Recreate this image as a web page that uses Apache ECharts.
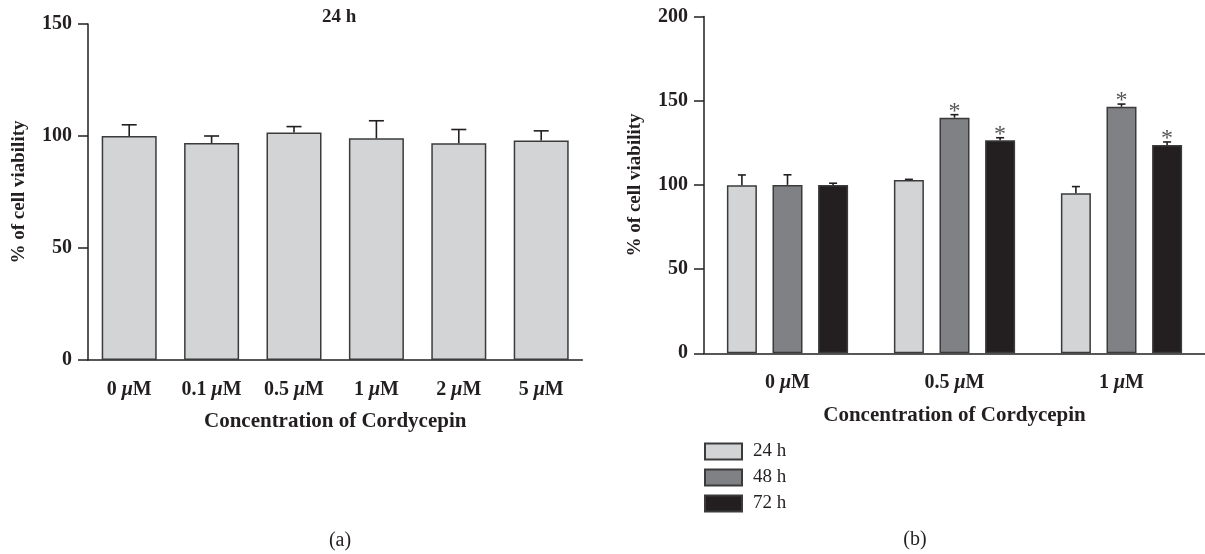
<!DOCTYPE html>
<html>
<head>
<meta charset="utf-8">
<script src="https://cdn.jsdelivr.net/npm/echarts@6/dist/echarts.min.js"></script>
<style>
html,body{margin:0;padding:0;background:#fff;}
#c{width:1205px;height:554px;}
</style>
</head>
<body>
<div id="c"></div>
<script>
// ---- data ----
const leftCategories = ['0 μM', '0.1 μM', '0.5 μM', '1 μM', '2 μM', '5 μM'];
const leftMeans = [100, 96.9, 101.6, 99.0, 96.8, 98.0];
const leftErr = [5.0, 3.1, 2.6, 7.8, 6.1, 4.3];

const rightCategories = ['0 μM', '0.5 μM', '1 μM'];
const seriesNames = ['24 h', '48 h', '72 h'];
const mean24 = [99.8, 102.9, 95.0];
const err24 = [6.1, 0.4, 4.0];
const mean48 = [100.0, 139.9, 146.4];
const err48 = [6.0, 1.8, 1.6];
const mean72 = [100.0, 126.5, 123.7];
const err72 = [1.0, 1.5, 1.8];
const sig48 = [false, true, true];
const sig72 = [false, true, true];

const leftTicks = {min: 0, max: 150, interval: 50};
const rightTicks = {min: 0, max: 200, interval: 50};

// ---- style ----
const FONT = "'Liberation Serif', 'DejaVu Serif', serif";
const INK = '#231f20';
const fills = ['#d3d4d6', '#808185', '#231f20'];
const BORDER = '#3b3b3b';
const RBAR = 30, RGAP = 0.52;

const chart = echarts.init(document.getElementById('c'), null, {renderer: 'canvas'});

function labelFmt(v) { return v.replace('μ', '{i|μ}'); }

function errRenderer(offsetPx, cap, sig) {
  return function (params, api) {
    const idx = api.value(0);
    const lo = api.value(1), hi = api.value(2);
    const p0 = api.coord([idx, lo]);
    const p1 = api.coord([idx, hi]);
    const cx = p0[0] + offsetPx;
    const style = {stroke: INK, lineWidth: 1.6};
    const children = [
      {type: 'line', shape: {x1: cx, y1: p0[1], x2: cx, y2: p1[1]}, style: style},
      {type: 'line', shape: {x1: cx - cap / 2, y1: p1[1], x2: cx + cap / 2, y2: p1[1]}, style: style}
    ];
    if (sig && sig[params.dataIndex]) {
      children.push({type: 'text', style: {text: '*', x: cx, y: p1[1] + 9, align: 'center', verticalAlign: 'bottom',
        font: "normal 24px " + FONT, fill: '#555'}});
    }
    return {type: 'group', children: children};
  };
}

function errData(means, errs) { return means.map((m, i) => [i, m, m + errs[i]]); }

const axisLine = {lineStyle: {color: INK, width: 1.5}};
const axisTick = {lineStyle: {color: INK, width: 1.5}, length: 10};

const rightMeans = [mean24, mean48, mean72];
const rightErrs = [err24, err48, err72];
const rightSig = [null, sig48, sig72];

const series = [
  {
    type: 'bar', name: 'a', xAxisIndex: 0, yAxisIndex: 0, data: leftMeans, barWidth: 55,
    itemStyle: {color: fills[0], borderColor: BORDER, borderWidth: 1.5}, silent: true
  },
  {
    type: 'custom', name: 'aerr', xAxisIndex: 0, yAxisIndex: 0, z: 5, silent: true,
    renderItem: errRenderer(0, 15, null), data: errData(leftMeans, leftErr)
  }
];
seriesNames.forEach((n, i) => {
  series.push({
    type: 'bar', name: n, xAxisIndex: 1, yAxisIndex: 1, data: rightMeans[i], barWidth: RBAR, barGap: (RGAP * 100) + '%',
    itemStyle: {color: fills[i], borderColor: BORDER, borderWidth: 1.5}, silent: true
  });
});
seriesNames.forEach((n, i) => {
  series.push({
    type: 'custom', name: n + ' err', xAxisIndex: 1, yAxisIndex: 1, z: 5, silent: true,
    renderItem: errRenderer((i - 1) * RBAR * (1 + RGAP), 8, rightSig[i]),
    data: errData(rightMeans[i], rightErrs[i])
  });
});

const yAxisCommon = {
  type: 'value', nameLocation: 'middle', nameGap: 59, name: '% of cell viability',
  nameTextStyle: {fontFamily: FONT, fontWeight: 'bold', fontSize: 19, color: INK},
  axisLine: Object.assign({show: true}, axisLine),
  axisTick: Object.assign({show: true}, axisTick),
  splitLine: {show: false},
  axisLabel: {fontFamily: FONT, fontWeight: 'bold', fontSize: 20, color: INK, margin: 16}
};
const xAxisCommon = {
  type: 'category', nameLocation: 'middle', name: 'Concentration of Cordycepin',
  nameTextStyle: {fontFamily: FONT, fontWeight: 'bold', fontSize: 21, color: INK},
  axisLine: axisLine,
  axisTick: Object.assign({alignWithLabel: true}, axisTick),
  axisLabel: {
    fontFamily: FONT, fontWeight: 'bold', fontSize: 20, color: INK, margin: 20, interval: 0,
    formatter: labelFmt,
    rich: {i: {fontFamily: FONT, fontWeight: 'bold', fontStyle: 'italic', fontSize: 20, color: INK}}
  }
};

chart.setOption({
  animation: false,
  backgroundColor: '#ffffff',
  grid: [
    {left: 88, top: 24, width: 494.4, height: 336},
    {left: 704, top: 16.5, width: 505, height: 336.8}
  ],
  xAxis: [
    Object.assign({}, xAxisCommon, {gridIndex: 0, data: leftCategories, nameGap: 51}),
    Object.assign({}, xAxisCommon, {gridIndex: 1, data: rightCategories, nameGap: 52})
  ],
  yAxis: [
    Object.assign({}, yAxisCommon, {gridIndex: 0}, leftTicks),
    Object.assign({}, yAxisCommon, {gridIndex: 1}, rightTicks)
  ],
  legend: {
    data: seriesNames, orient: 'vertical', left: 704, top: 442, padding: 0, itemWidth: 37, itemHeight: 16, itemGap: 7,
    icon: 'rect', selectedMode: false,
    textStyle: {fontFamily: FONT, fontSize: 19, color: INK, padding: [0, 0, 0, 6]}
  },
  graphic: [
    {type: 'text', left: 322, top: 8, style: {text: '24 h', font: 'bold 19px ' + FONT, fill: INK}},
    {type: 'text', x: 340, y: 541, style: {text: '(a)', font: 'normal 20px ' + FONT, fill: INK, align: 'center', verticalAlign: 'middle'}},
    {type: 'text', x: 915, y: 540, style: {text: '(b)', font: 'normal 20px ' + FONT, fill: INK, align: 'center', verticalAlign: 'middle'}}
  ],
  series: series
});
</script>
</body>
</html>
